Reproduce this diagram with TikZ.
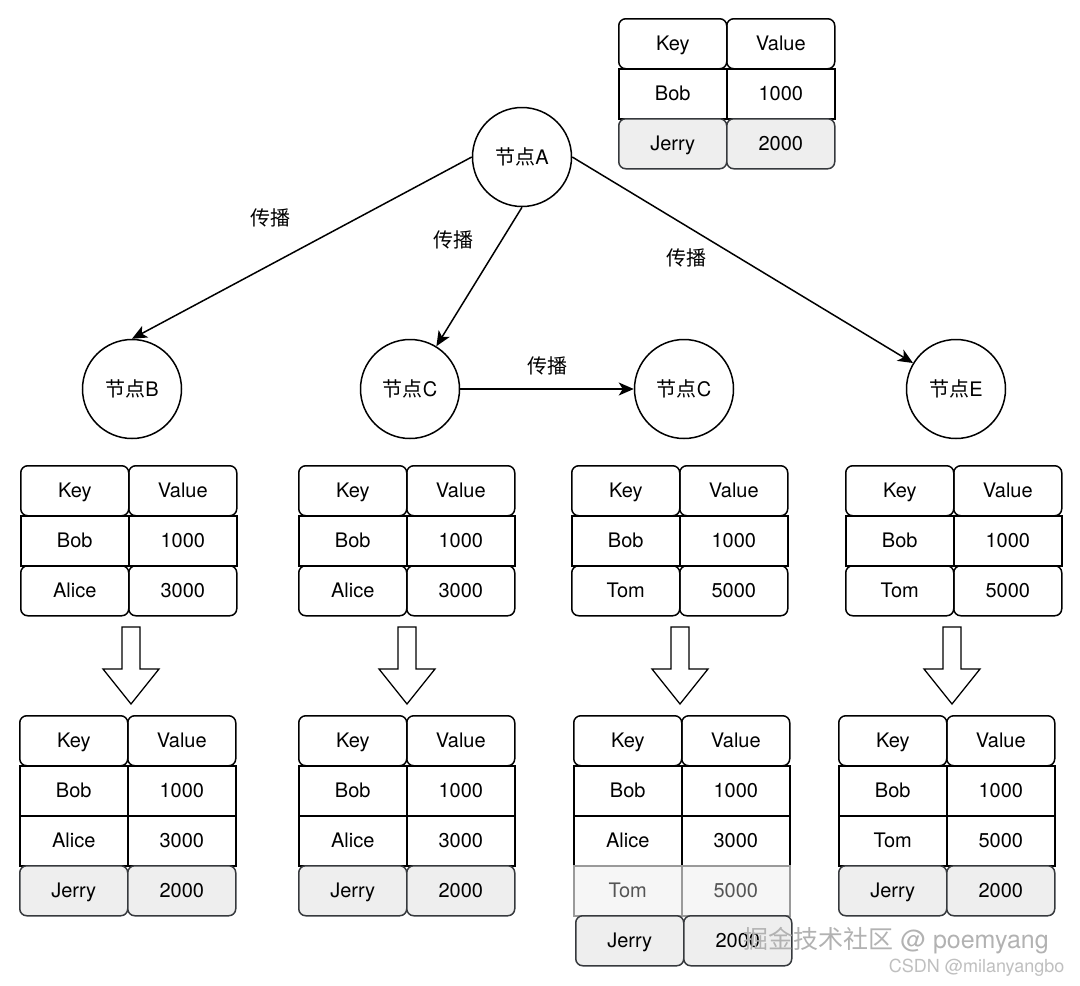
\documentclass[tikz,border=0pt]{standalone}
\usepackage{fontspec}
\setmainfont{TeX Gyre Heros}
\newfontfamily\cjk{Noto Sans CJK SC}
\usepackage{xcolor}
\usepackage{tikz}
\usetikzlibrary{arrows.meta}

\definecolor{jerryfill}{HTML}{EEEEEE}
\definecolor{jerrydraw}{HTML}{36393D}
\definecolor{fadefill}{HTML}{F6F6F6}
\definecolor{fadedraw}{HTML}{9A9A9A}
\definecolor{fadetext}{HTML}{555555}

% one key/value row: name, x, y, style, key, value
\newcommand{\kvrow}[6]{%
  \node[#4, anchor=north west] (#1k) at (#2,#3) {#5};
  \node[#4, anchor=north west] (#1v) at (#2+108,#3) {#6};}

\begin{document}
\begin{tikzpicture}[x=1pt, y=-1pt, line width=1.5pt,
    font=\fontsize{20}{24}\selectfont,
    cell/.style={draw, minimum width=108pt, minimum height=50pt, inner sep=0pt,
        text height=14.4pt, text depth=0pt},
    rcell/.style={cell, rounded corners=7pt},
    gcell/.style={rcell, fill=jerryfill, draw=jerrydraw},
    fcell/.style={cell, fill=fadefill, draw=fadedraw, text=fadetext},
    peer/.style={draw, circle, minimum size=99pt, inner sep=0pt},
    lbl/.style={inner sep=0pt},
    sync/.style={-{Stealth[length=15pt, width=13pt, inset=4pt]}},
    bigarrow/.style={draw, fill=white, line width=1.3pt}]
    \useasboundingbox (0,0) rectangle (1080,986);

    % peers
    \node[peer] (A) at (522,157) {{\cjk 节点}A};
    \node[peer] (B) at (132,389) {{\cjk 节点}B};
    \node[peer] (C) at (410,389) {{\cjk 节点}C};
    \node[peer] (C2) at (684,389) {{\cjk 节点}C};
    \node[peer] (E) at (956,389) {{\cjk 节点}E};

    \draw[sync] (A.west) -- (B.north);
    \draw[sync] (A.south) -- (C);
    \draw[sync] (A.east) -- (E);
    \draw[sync] (C) -- (C2);

    \node[lbl] (pAB) at (270,218) {\cjk 传播};
    \node[lbl] (pAC) at (453,240) {\cjk 传播};
    \node[lbl] (pAE) at (686,258) {\cjk 传播};
    \node[lbl] (pCC) at (547,366) {\cjk 传播};

    % table of A
    \kvrow{t0h}{618}{18}{rcell}{Key}{Value}
    \kvrow{t0a}{618}{68}{cell}{Bob}{1000}
    \kvrow{t0b}{618}{118}{gcell}{Jerry}{2000}

    % tables before
    \kvrow{t1h}{20}{465}{rcell}{Key}{Value}
    \kvrow{t1b}{20}{565}{rcell}{Alice}{3000}
    \kvrow{t1a}{20}{515}{cell}{Bob}{1000}

    \kvrow{t2h}{298}{465}{rcell}{Key}{Value}
    \kvrow{t2b}{298}{565}{rcell}{Alice}{3000}
    \kvrow{t2a}{298}{515}{cell}{Bob}{1000}

    \kvrow{t3h}{571}{465}{rcell}{Key}{Value}
    \kvrow{t3b}{571}{565}{rcell}{Tom}{5000}
    \kvrow{t3a}{571}{515}{cell}{Bob}{1000}

    \kvrow{t4h}{845}{465}{rcell}{Key}{Value}
    \kvrow{t4b}{845}{565}{rcell}{Tom}{5000}
    \kvrow{t4a}{845}{515}{cell}{Bob}{1000}

    % merge arrows
    \draw[bigarrow] (122,627) -- (140,627) -- (140,669) -- (159,669) -- (131,704) -- (103,669) -- (122,669) -- cycle;
    \draw[bigarrow] (398,627) -- (416,627) -- (416,669) -- (435,669) -- (407,704) -- (379,669) -- (398,669) -- cycle;
    \draw[bigarrow] (671,627) -- (689,627) -- (689,669) -- (708,669) -- (680,704) -- (652,669) -- (671,669) -- cycle;
    \draw[bigarrow] (943,627) -- (961,627) -- (961,669) -- (980,669) -- (952,704) -- (924,669) -- (943,669) -- cycle;

    % tables after
    \kvrow{u1h}{19}{715}{rcell}{Key}{Value}
    \kvrow{u1a}{19}{765}{cell}{Bob}{1000}
    \kvrow{u1b}{19}{815}{cell}{Alice}{3000}
    \kvrow{u1c}{19}{865}{gcell}{Jerry}{2000}

    \kvrow{u2h}{298}{715}{rcell}{Key}{Value}
    \kvrow{u2a}{298}{765}{cell}{Bob}{1000}
    \kvrow{u2b}{298}{815}{cell}{Alice}{3000}
    \kvrow{u2c}{298}{865}{gcell}{Jerry}{2000}

    \kvrow{u3h}{573}{715}{rcell}{Key}{Value}
    \kvrow{u3a}{573}{765}{cell}{Bob}{1000}
    \kvrow{u3b}{573}{815}{cell}{Alice}{3000}
    \kvrow{u3c}{573}{865}{fcell}{Tom}{5000}
    \kvrow{u3d}{575}{915}{gcell}{Jerry}{2000}

    \kvrow{u4h}{838}{715}{rcell}{Key}{Value}
    \kvrow{u4a}{838}{765}{cell}{Bob}{1000}
    \kvrow{u4b}{838}{815}{cell}{Tom}{5000}
    \kvrow{u4c}{838}{865}{gcell}{Jerry}{2000}

    % watermarks
    \node[lbl, anchor=west, text=black!30, font=\fontsize{25}{30}\selectfont] (wm) at (743,941) {{\cjk 掘金技术社区} @ poemyang};
    \node[lbl, anchor=west, text=black!25, font=\fontsize{18}{22}\selectfont] (csdn) at (888,968) {CSDN @milanyangbo};
\end{tikzpicture}
\end{document}
